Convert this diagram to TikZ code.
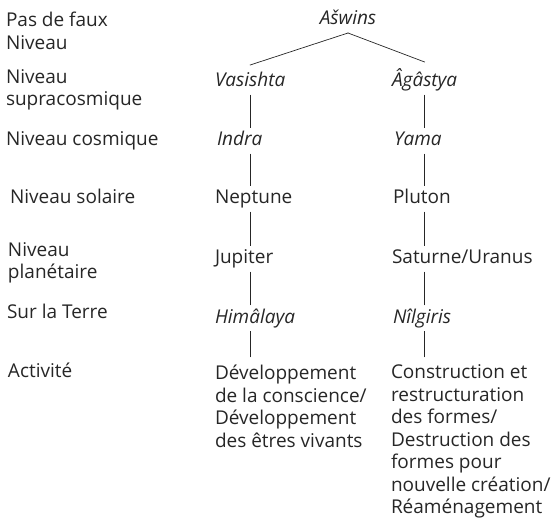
\documentclass[tikz,border=0pt]{standalone}
\usepackage{fontspec}
\setmainfont{Open Sans}
\begin{document}
\begin{tikzpicture}[x=1pt, y=-1pt, font=\fontsize{19}{22.5}\selectfont,
	every node/.style={inner sep=0pt, outer sep=0pt, anchor=west, align=left, text=black!85},
	cell/.style={text height=16pt, text depth=6pt, inner ysep=2pt},
	ital/.style={cell, font=\fontsize{19}{22.5}\selectfont\itshape},
	activ/.style={anchor=north west, inner ysep=8pt},
	line cap=rect, line width=0.7pt, draw=black!85]
	\useasboundingbox (0,0) rectangle (556,518);
	
	% Niveaux
	\node (lfaux)  at (6, 31)  {Pas de faux\\Niveau};
	\node (lsupra) at (6, 90)  {Niveau\\supracosmique};
	\node (lcosm)  at (6, 141) {Niveau cosmique};
	\node (lsol)   at (10, 196) {Niveau solaire};
	\node (lplan)  at (8, 263) {Niveau\\planétaire};
	\node (lterre) at (7, 311) {Sur la Terre};
	\node (lact)   at (8, 370) {Activité};
	
	% Arbre
	\node[ital, anchor=center] (aswins) at (348, 20) {Ašwins};
	\node[ital] (vasishta) at (215, 82)  {Vasishta};
	\node[ital] (agastya)  at (392, 82)  {Âgâstya};
	\node[ital] (indra)    at (217, 141) {Indra};
	\node[ital] (yama)     at (394, 141) {Yama};
	\node[cell] (neptune)  at (215, 199) {Neptune};
	\node[cell] (pluton)   at (393, 199) {Pluton};
	\node[cell] (jupiter)  at (215, 259) {Jupiter};
	\node[cell] (saturne)  at (392, 259) {Saturne/Uranus};
	\node[ital] (himalaya) at (215, 318) {Himâlaya};
	\node[ital] (nilgiris) at (393, 318) {Nîlgiris};
	\node[activ] (devel)  at (215, 357) {Développement\\de la conscience/\\Développement\\des êtres vivants};
	\node[activ] (constr) at (391, 357) {Construction et\\restructuration\\des formes/\\Destruction des\\formes pour\\nouvelle création/\\Réaménagement};
	
	\draw (aswins.south) -- ([yshift=4pt]vasishta.north);
	\draw (aswins.south) -- ([yshift=7pt]agastya.north);
	\draw (vasishta.south) -- (vasishta.south |- indra.north);
	\draw (agastya.south) -- (agastya.south |- yama.north);
	\draw (vasishta.south |- indra.south) -- (vasishta.south |- neptune.north);
	\draw (agastya.south |- yama.south) -- (agastya.south |- pluton.north);
	\draw (vasishta.south |- neptune.south) -- (vasishta.south |- jupiter.north);
	\draw (agastya.south |- pluton.south) -- (agastya.south |- saturne.north);
	\draw (vasishta.south |- jupiter.south) -- (vasishta.south |- himalaya.north);
	\draw (agastya.south |- saturne.south) -- (agastya.south |- nilgiris.north);
	\draw (vasishta.south |- himalaya.south) -- (vasishta.south |- devel.north);
	\draw (agastya.south |- nilgiris.south) -- (agastya.south |- constr.north);
	
\end{tikzpicture}
\end{document}
